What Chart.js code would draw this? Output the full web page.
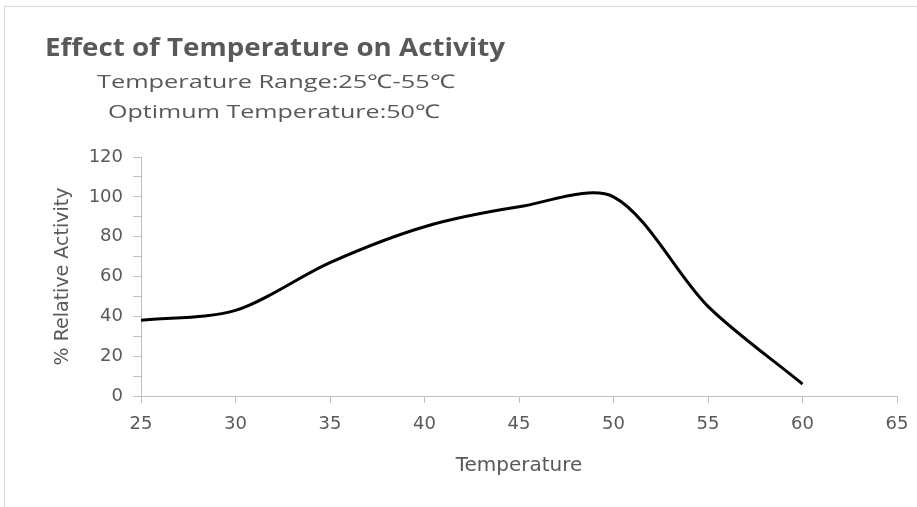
<!DOCTYPE html>
<html>
<head>
<meta charset="utf-8">
<script src="https://cdn.jsdelivr.net/npm/chart.js@4.4.0/dist/chart.umd.min.js"></script>
<style>
  html, body { margin: 0; padding: 0; background: #fff; }
  #wrap { position: relative; width: 917px; height: 507px; }
</style>
</head>
<body>
<div id="wrap"><canvas id="activityChart" width="917" height="507"></canvas></div>
<script>
// temperatures (°C) and % relative activity
const temperatures = [25, 30, 35, 40, 45, 50, 55, 60];
const activity = [38, 43, 67, 85, 95, 100, 45, 6];
const xTicks = [25, 30, 35, 40, 45, 50, 55, 60, 65];
const yTicks = [0, 20, 40, 60, 80, 100, 120];

const titleText = "Effect of Temperature on Activity";
const subtitleLines = ["Temperature Range:25℃-55℃", "Optimum Temperature:50℃"];

const textColor = '#595959';
const axisColor = '#bfbfbf';
const tickFont = { family: '"DejaVu Sans"', size: 18 };

// text squeezed/stretched to the width it has in the reference
function fitText(c, text, x, baseline, width) {
  const w = c.measureText(text).width;
  c.save();
  c.translate(x, baseline);
  c.scale(width / w, 1);
  c.fillText(text, 0, 0);
  c.restore();
}

// frame and the title block in the top-left corner
const headerPlugin = {
  id: 'header',
  beforeDraw(chart) {
    const c = chart.ctx;
    c.save();
    c.strokeStyle = '#d9d9d9';
    c.lineWidth = 1;
    c.beginPath();
    c.moveTo(4.5, 520);
    c.lineTo(4.5, 6.5);
    c.lineTo(930, 6.5);
    c.stroke();

    c.fillStyle = textColor;
    c.textBaseline = 'alphabetic';
    c.textAlign = 'left';
    c.font = 'bold 25px "Open Sans"';
    fitText(c, titleText, 45, 56, 460);
    c.font = '19px "Open Sans"';
    fitText(c, subtitleLines[0], 97, 88, 358);
    fitText(c, subtitleLines[1], 108, 118, 332);
    c.restore();
  }
};

new Chart(document.getElementById('activityChart'), {
  type: 'line',
  data: {
    datasets: [{
      data: temperatures.map((t, i) => ({ x: t, y: activity[i] })),
      borderColor: '#000000',
      borderWidth: 3,
      pointRadius: 0,
      tension: 0.3,
      fill: false
    }]
  },
  options: {
    responsive: false,
    animation: false,
    layout: { padding: { top: 157, right: 20, bottom: 25, left: 48 } },
    plugins: { legend: { display: false }, tooltip: { enabled: false } },
    scales: {
      x: {
        type: 'linear',
        min: 25,
        max: 65,
        afterBuildTicks(scale) { scale.ticks = xTicks.map(v => ({ value: v })); },
        afterFit(scale) {
          scale.height = 86;
          scale.paddingLeft = 0;
          scale.paddingRight = 0;
        },
        grid: { drawOnChartArea: false, color: axisColor, tickLength: 7 },
        border: { color: axisColor },
        ticks: { color: textColor, font: tickFont, padding: 11, maxRotation: 0 },
        title: { display: true, text: 'Temperature', color: textColor, font: { family: '"DejaVu Sans"', size: 20 }, padding: { top: 14 } }
      },
      y: {
        min: 0,
        max: 120,
        ticks: {
          stepSize: 10,
          autoSkip: false,
          color: textColor,
          font: tickFont,
          padding: 10,
          callback: v => (yTicks.includes(v) ? v : '')
        },
        afterFit(scale) { scale.width = 93; },
        grid: { drawOnChartArea: false, color: axisColor, tickLength: 8 },
        border: { color: axisColor },
        title: { display: true, text: '% Relative Activity', color: textColor, font: { family: '"DejaVu Sans"', size: 19 }, padding: { bottom: 4 } }
      }
    }
  },
  plugins: [headerPlugin]
});
</script>
</body>
</html>
